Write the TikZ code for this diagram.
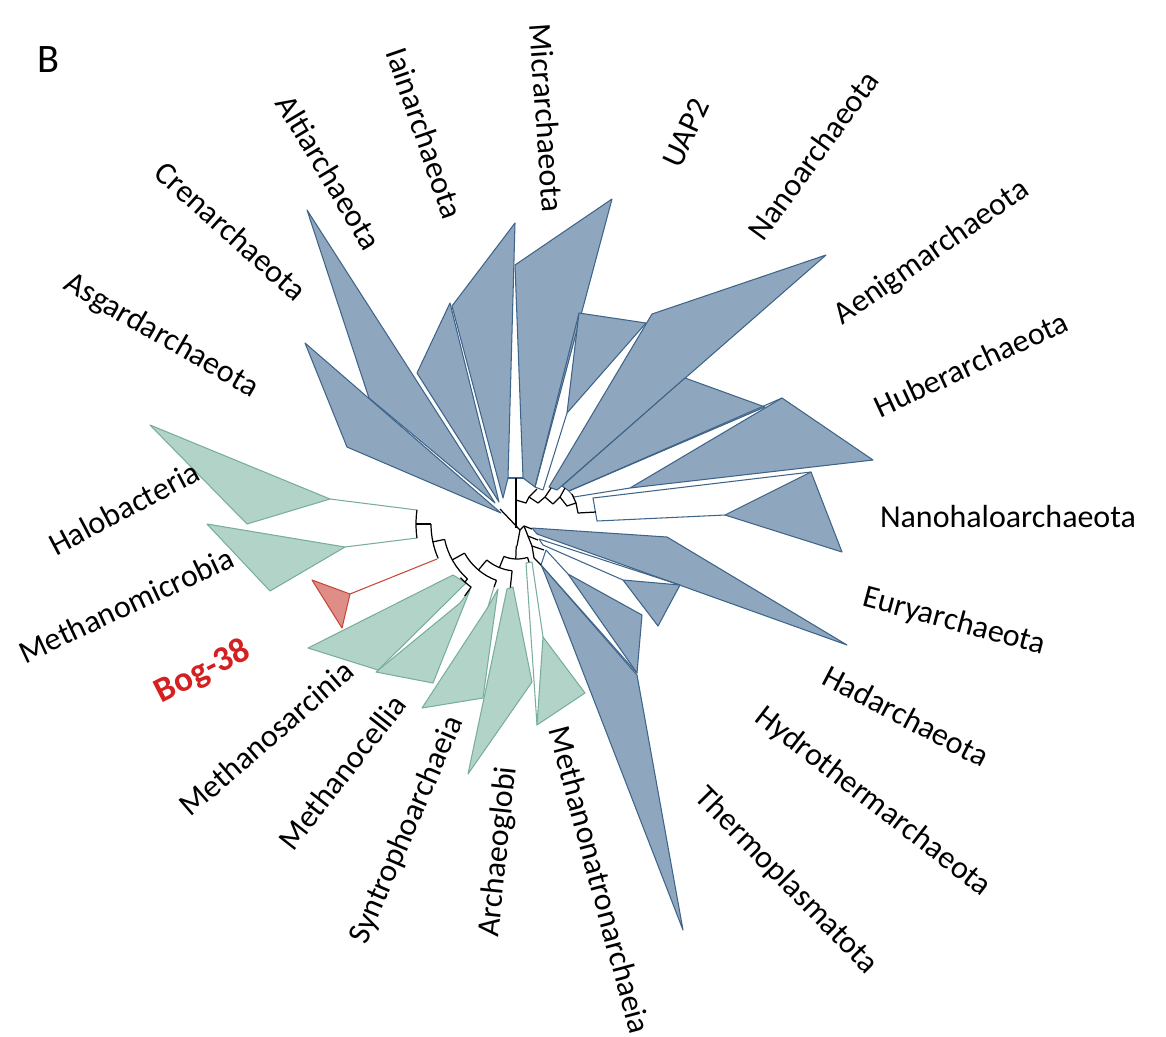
\documentclass[tikz,border=0pt]{standalone}
\usepackage{fontspec}
\setmainfont{Carlito}
\usetikzlibrary{calc}
\definecolor{bfill}{HTML}{8FA7BE}
\definecolor{bline}{HTML}{3F6489}
\definecolor{gfill}{HTML}{B2D4C8}
\definecolor{gline}{HTML}{78AE9A}
\definecolor{rfill}{HTML}{DE8E86}
\definecolor{rline}{HTML}{C8473D}
\definecolor{rtext}{HTML}{D42020}
\begin{document}
\begin{tikzpicture}[x=0.02cm,y=-0.02cm,
  bc/.style={draw=bline,fill=bfill,line width=0.6pt,line join=round},
  bl/.style={draw=bline,line width=0.6pt},
  gc/.style={draw=gline,fill=gfill,line width=0.6pt,line join=round},
  gl/.style={draw=gline,line width=0.6pt},
  rc/.style={draw=rline,fill=rfill,line width=0.6pt,line join=round},
  rl/.style={draw=rline,line width=0.6pt},
  tree/.style={draw=black,line width=0.7pt,line join=round},
  lab/.style={font=\fontsize{18.2}{20}\selectfont,inner sep=0pt,anchor=center}]
\useasboundingbox (0,0) rectangle (1166,1036);
% ---------------- upper blue clades
\path[bc] (501,513) -- (305,343) -- (347,447) -- cycle;          % Asgard
\path[bc] (495,503) -- (307,210) -- (369,398) -- cycle;          % Cren
\path[bc] (499,502) -- (417,373) -- (450,303) -- cycle;          % Alti
\path[bc] (503,498) -- (452,306) -- (515,223) -- (508,478) -- cycle; % Iain
\path[bc] (523,478) -- (515,265) -- (612,199) -- (535,487) -- cycle; % Micr
\draw[bl] (508,478) -- (523,478);
\draw[bl] (535,487) -- (579,313); \draw[bl] (543,490) -- (567,413); \draw[bl] (535,487) -- (543,490);
\path[bc] (579,313) -- (646,323) -- (567,413) -- cycle;          % UAP2
\path[bc] (549,487) -- (652,314) -- (826,255) -- (557,490) -- cycle; % Nano
\path[bc] (562,486) -- (685,378) -- (765,407) -- (569,491) -- cycle; % Aenig
\draw[bl] (569,491) -- (782,398); \draw[bl] (574,497) -- (630,488); \draw[bl] (569,491) -- (574,497);
\path[bc] (630,488) -- (782,398) -- (873,460) -- cycle;          % Huber
\draw[bl] (597,521) -- (593,498) -- (811,472); \draw[bl] (597,521) -- (725,515);
\path[bc] (725,515) -- (811,472) -- (842,552) -- cycle;          % Nanohalo
% ---------------- lower blue clades
\path[bc] (532,528) -- (667,537) -- (847,645) -- (537,534) -- cycle; % Eury
\draw[bl] (539,539) -- (680,585); \draw[bl] (543,545) -- (623,580); \draw[bl] (539,539) -- (543,545);
\path[bc] (623,580) -- (680,585) -- (658,626) -- cycle;          % Hadar
\draw[bl] (546,550) -- (568,574); \draw[bl] (541,565) -- (637,673); \draw[bl] (546,550) -- (541,565);
\path[bc] (568,574) -- (642,615) -- (637,673) -- cycle;          % Hydroth
\path[bc] (541,565) -- (637,675) -- (683,930) -- (545,574) -- cycle; % Thermo
% ---------------- green clades
\draw[gl] (526,563) -- (537,725); \draw[gl] (532,562) -- (543,637); \draw[gl] (526,563) -- (532,562);
\path[gc] (543,637) -- (585,693) -- (537,725) -- cycle;          % Methanonatron
\path[gc] (507,589) -- (513,587) -- (532,682) -- (468,774) -- cycle; % Archaeoglobi
\draw[gl] (494,587) -- (488,607);
\path[gc] (488,607) -- (422,708) -- (483,698) -- (498,589) -- cycle; % Syntroph
\path[gc] (470,590) -- (460,603) -- (376,672) -- (433,683) -- cycle; % Mcell
\path[gc] (453,575) -- (308,648) -- (378,670) -- (466,583) -- cycle; % Msarc
\draw[rl] (437,559) -- (350,594);
\path[rc] (350,594) -- (312,580) -- (342,628) -- cycle;          % Bog-38
\draw[gl] (417,538) -- (345,547);
\path[gc] (345,547) -- (207,524) -- (270,591) -- cycle;          % Mmic
\draw[gl] (417,510) -- (330,499);
\path[gc] (330,499) -- (150,425) -- (247,524) -- cycle;          % Halo
% ---------------- tree
\coordinate (O) at (517,524);
\newcommand\tarc[3]{\draw[tree] ($(O)+({-(#2)}:#1)$) arc[start angle={-(#2)}, end angle={-(#3)}, radius=#1];}
\newcommand\trad[3]{\draw[tree] ($(O)+({-(#1)}:#2)$) -- ($(O)+({-(#1)}:#3)$);}
\tarc{101}{172}{188} \trad{180}{101}{86}
\tarc{86}{180}{203.6} \trad{192}{86}{74}
\tarc{74}{192}{228} \trad{228}{74}{78}
\tarc{78}{223.5}{234} \trad{234}{78}{89}
\trad{209}{74}{60}
\tarc{60}{209}{250} \trad{250}{60}{67}
\trad{230}{60}{47}
\tarc{47}{230}{264} \trad{264}{47}{64}
\trad{248}{47}{35}
\tarc{35}{248}{287.5} \trad{287.5}{35}{40}
\trad{268}{35}{22}
\draw[tree] (500,509) -- (520,530);
\draw[tree] (516,478) -- (516,528);
\draw[tree] (516,500) -- (526,503) -- (529,497) -- (537,489);
\draw[tree] (529,497) -- (538,503) -- (545,497) -- (551,488);
\draw[tree] (545,497) -- (553,504) -- (560,497) -- (565,488);
\draw[tree] (560,497) -- (567,506) -- (576,503) -- (572,494);
\draw[tree] (576,503) -- (578,513) -- (596,512);
\draw[tree] (520,530) -- (524,526) -- (532,529);
\draw[tree] (524,526) -- (528,536) -- (538,540);
\draw[tree] (528,536) -- (532,546) -- (544,550);
\draw[tree] (532,546) -- (534,558) -- (541,565);
\draw[tree] (520,530) -- (517,546);
% ---------------- labels
\node[font=\fontsize{23}{26}\selectfont] (lB) at (48,60) {B};
\node[lab,rotate=-30] (l1) at (161,336) {Asgardarchaeota};
\node[lab,rotate=-42] (l2) at (231,231) {Crenarchaeota};
\node[lab,rotate=-59] (l3) at (329,172) {Altiarchaeota};
\node[lab,rotate=-71] (l4) at (425,133) {Iainarchaeota};
\node[lab,rotate=-86] (l5) at (547,118) {Micrarchaeota};
\node[lab,rotate=65] (l6) at (686,133) {UAP2};
\node[lab,rotate=54] (l7) at (813,155) {Nanoarchaeota};
\node[lab,rotate=35] (l8) at (932,253) {Aenigmarchaeota};
\node[lab,rotate=25] (l9) at (971,364) {Huberarchaeota};
\node[lab] (l10) at (1008,516) {Nanohaloarchaeota};
\node[lab,rotate=-15] (l11) at (954,622) {Euryarchaeota};
\node[lab,rotate=-27.6] (l12) at (906,716) {Hadarchaeota};
\node[lab,rotate=-37.7] (l13) at (873,802) {Hydrothermarchaeota};
\node[lab,rotate=-45.6] (l14) at (786,881) {Thermoplasmatota};
\node[lab,rotate=-75] (l15) at (600,880) {Methanonatronarchaeia};
\node[lab,rotate=84] (l16) at (499,852) {Archaeoglobi};
\node[lab,rotate=66.6] (l17) at (407,830) {Syntrophoarchaeia};
\node[lab,rotate=52] (l18) at (342,772) {Methanocellia};
\node[lab,rotate=41] (l19) at (266,738) {Methanosarcinia};
\node[lab,rotate=27,font=\fontsize{20}{22}\selectfont\bfseries,text=rtext] (l20) at (203,672) {Bog-38};
\node[lab,rotate=25] (l21) at (126,605) {Methanomicrobia};
\node[lab,rotate=28] (l22) at (124,508) {Halobacteria};
\end{tikzpicture}
\end{document}
